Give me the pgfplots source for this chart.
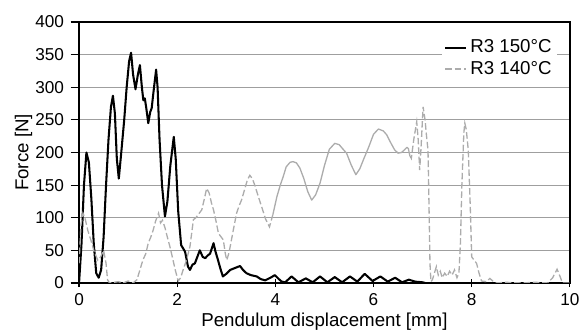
\documentclass[border=0pt]{standalone}
\usepackage{pgfplots}
\pgfplotsset{compat=1.18}
\usepackage{pgfplotstable}
\usepackage{fontspec}
\setmainfont{Liberation Sans}

\pgfplotstableread{
x y
0 0
0.05 60
0.1 150
0.15 200
0.2 185
0.25 130
0.3 60
0.35 15
0.4 8
0.45 20
0.5 70
0.55 150
0.6 220
0.65 270
0.69 287
0.73 260
0.77 190
0.81 160
0.86 200
0.92 250
0.97 300
1.02 340
1.06 353
1.1 320
1.15 297
1.2 320
1.24 334
1.28 300
1.31 280
1.34 283
1.37 268
1.41 245
1.45 262
1.48 268
1.52 295
1.57 327
1.6 300
1.64 220
1.69 150
1.75 102
1.8 125
1.86 180
1.93 224
1.97 190
2.02 110
2.08 58
2.16 48
2.22 25
2.26 20
2.31 28
2.36 30
2.42 42
2.46 50
2.52 40
2.57 38
2.62 42
2.67 45
2.74 61
2.78 48
2.82 38
2.88 22
2.93 10
3.0 14
3.08 20
3.18 23
3.28 26
3.34 20
3.41 15
3.5 12
3.62 10
3.7 6
3.79 4
3.9 8
3.99 12
4.07 6
4.13 2
4.2 1
4.33 10
4.47 1
4.62 7
4.76 1
4.91 10
5.06 1
5.21 9
5.36 1
5.52 10
5.67 2
5.82 14
5.98 3
6.14 10
6.29 2
6.44 8
6.58 1
6.72 5
6.85 2
7.0 1
7.05 0
}\hightemp

\pgfplotstableread{
x y
0 30
0.04 90
0.08 107
0.12 100
0.18 80
0.24 66
0.3 50
0.38 35
0.44 40
0.5 50
0.55 30
0.58 5
0.62 0
0.8 2
0.9 0
1.0 3
1.1 0
1.18 5
1.24 20
1.3 35
1.36 45
1.41 61
1.46 70
1.51 81
1.56 95
1.62 107
1.66 92
1.7 96
1.75 85
1.8 70
1.85 56
1.9 40
1.96 20
2.02 3
2.07 8
2.12 20
2.19 35
2.26 56
2.33 97
2.38 100
2.43 105
2.5 112
2.55 128
2.6 145
2.65 138
2.7 122
2.74 112
2.79 95
2.84 76
2.9 70
2.94 66
2.98 45
3.01 35
3.05 45
3.08 56
3.14 80
3.21 107
3.26 118
3.31 127
3.38 145
3.43 158
3.48 165
3.53 160
3.58 150
3.65 133
3.72 117
3.8 98
3.88 86
3.95 105
}\lowtempA

\pgfplotstableread{
x y
3.95 105
4.03 132
4.1 150
4.16 163
4.22 178
4.3 185
4.36 186
4.43 184
4.5 176
4.58 160
4.66 140
4.74 127
4.82 135
4.91 153
5.0 180
5.1 205
5.21 214
5.3 212
5.38 205
5.45 199
5.55 180
5.64 166
5.72 175
5.8 190
5.9 208
6.0 228
6.1 236
6.2 233
6.27 227
6.35 215
6.43 204
6.5 199
6.57 200
6.63 204
6.68 208
6.71 206
6.74 195
}\lowtempB

\pgfplotstableread{
x y
6.74 195
6.77 191
6.82 220
6.88 247
6.91 220
6.94 173
6.97 210
7.01 270
7.05 250
7.08 225
7.11 204
7.13 120
7.15 30
7.17 2
7.2 5
7.24 15
7.28 25
7.32 12
7.36 18
7.4 8
7.45 15
7.5 10
7.55 18
7.6 12
7.65 20
7.7 8
7.74 15
7.77 60
7.8 150
7.84 230
7.86 245
7.89 235
7.93 204
7.97 120
8.0 40
8.05 35
8.1 30
8.15 15
8.2 3
8.3 2
8.37 7
8.43 3
8.5 0
8.7 1
9.0 0
9.3 1
9.55 0
9.65 8
9.74 21
9.8 10
9.85 0
10 0
}\lowtempC

\begin{document}
\begin{tikzpicture}
\begin{axis}[
  scale only axis,
  width=262.6pt, height=139.6pt,
  xmin=0, xmax=10, ymin=0, ymax=400,
  xtick={0,2,...,10}, ytick={0,50,...,400},
  xtick pos=left, ytick pos=left,
  xtick align=center, ytick align=outside, major tick length=4.5pt,
  tick style={black, line width=0.6pt},
  axis line style={line width=0.8pt},
  ymajorgrids, grid style={gray!75, line width=0.6pt},
  /pgf/number format/assume math mode=true,
  font=\fontsize{10}{12}\selectfont,
  ticklabel style={font=\fontsize{9.2}{11}\selectfont},
  xlabel={Pendulum displacement [mm]},
  ylabel={Force [N]},
  xlabel style={at={(axis description cs:0.5,-0.15)}, anchor=center},
  ylabel style={at={(axis description cs:-0.113,0.5)}, anchor=center},
  legend style={at={(rel axis cs:0.975,0.955)}, anchor=north east, draw=none, fill=white,
    font=\fontsize{10}{10}\selectfont, inner sep=1pt, row sep=-1pt},
  legend cell align=left,
  legend image code/.code={\draw[#1] (0cm,0cm) -- (0.38cm,0cm);},
]
\addplot[black, line width=1.1pt, line join=round] table[x=x,y=y] {\hightemp};
\addlegendentry{R3 150°C}
\addplot[gray!65, line width=0.7pt, dash pattern=on 3.5pt off 1.5pt] table[x=x,y=y] {\lowtempA};
\addlegendentry{R3 140°C}
\addplot[gray!65, line width=0.7pt, forget plot, line join=round] table[x=x,y=y] {\lowtempB};
\addplot[gray!65, line width=0.7pt, dash pattern=on 3.5pt off 1.5pt, forget plot] table[x=x,y=y] {\lowtempC};
\end{axis}
\pgfresetboundingbox
\path (-42.3pt,-26.75pt) rectangle (269.1pt,151.4pt);
\end{tikzpicture}
\end{document}
